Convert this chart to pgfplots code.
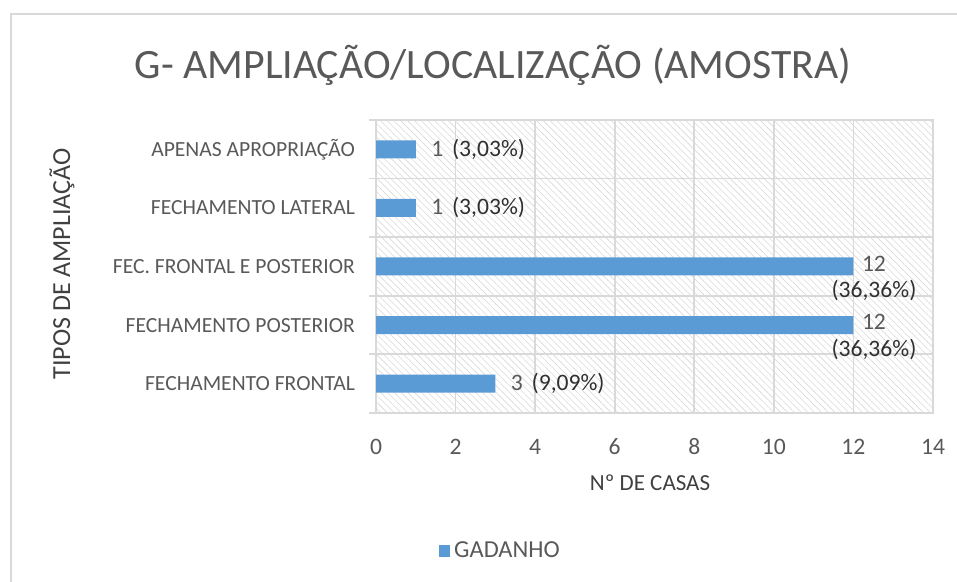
\documentclass[border=0pt]{standalone}
\usepackage{fontspec}
\setmainfont{Carlito}
\usepackage{pgfplots}
\pgfplotsset{compat=1.18}
\usetikzlibrary{patterns.meta}
\definecolor{barc}{HTML}{5B9BD5}
\definecolor{txt}{HTML}{595959}
\definecolor{dark}{HTML}{404040}
\definecolor{lab}{HTML}{303030}
\definecolor{grd}{HTML}{D9D9D9}
\newcommand\lblfont{\fontsize{10.8}{13}\selectfont}
\newcommand\numfont{\fontsize{11.8}{14}\selectfont}
\newcommand\datfont{\fontsize{11.8}{13.2}\selectfont}
\begin{document}
\begin{tikzpicture}
\useasboundingbox (0,0) rectangle (478.5pt,291pt);
\draw[grd, line width=1pt] (5.5pt,-5pt) -- (5.5pt,284pt) -- (485pt,284pt);
\node[text=txt, font=\fontsize{20.9}{25}\selectfont] at (246.5pt,258.5pt) {G- AMPLIAÇÃO/LOCALIZAÇÃO (AMOSTRA)};
\node[text=dark, font=\fontsize{13}{15}\selectfont, rotate=90] at (31pt,159pt) {TIPOS DE AMPLIAÇÃO};
\node[text=dark, font=\fontsize{11.5}{14}\selectfont] at (325pt,49.5pt) {Nº DE CASAS};
\begin{axis}[
  at={(188pt,84.5pt)}, anchor=south west,
  scale only axis, width=278.5pt, height=146.5pt,
  xmin=0, xmax=14, ymin=-0.5, ymax=4.5,
  xbar, bar width=9pt, bar shift=0pt,
  xtick={0,2,...,14},
  ytick={0,1,2,3,4},
  yticklabels={FECHAMENTO FRONTAL, FECHAMENTO POSTERIOR, FEC. FRONTAL E POSTERIOR, FECHAMENTO LATERAL, APENAS APROPRIAÇÃO},
  minor ytick={-0.5,0.5,1.5,2.5,3.5,4.5},
  xmajorgrids, yminorgrids,
  grid style={grd, line width=0.9pt},
  minor grid style={grd, line width=0.9pt},
  axis line style={grd, line width=1pt},
  tick pos=left, tick align=outside,
  major tick length=0pt, minor tick length=3.5pt,
  minor tick style={grd, line width=0.9pt},
  /pgf/number format/assume math mode=true,
  every tick label/.append style={text=txt},
  xticklabel style={anchor=center, yshift=-17pt, font=\numfont},
  yticklabel style={anchor=east, xshift=-7pt, font=\lblfont},
  axis background/.style={pattern={Lines[angle=-45,distance=2.4pt,line width=0.3pt]}, pattern color=gray!30},
  legend style={draw=none, fill=none, at={(0.225,-0.471)}, anchor=center, font=\fontsize{12.2}{14}\selectfont, text=txt},
  legend image code/.code={\fill[barc] (-1.5pt,-2.8pt) rectangle (4.1pt,2.8pt);},
  point meta=explicit symbolic,
]
\addplot[fill=barc, draw=none, nodes near coords,
  every node near coord/.append style={anchor=west, xshift=4.2pt, text=lab, font=\datfont}]
  coordinates {(3,0) [{\textcolor{txt}{3}\hspace{0.15em} (9,09\%)}] (1,3) [{\textcolor{txt}{1}\hspace{0.15em} (3,03\%)}] (1,4) [{\textcolor{txt}{1}\hspace{0.15em} (3,03\%)}]};
\addlegendentry{GADANHO}
\addplot[fill=barc, draw=none, forget plot, nodes near coords,
  every node near coord/.append style={anchor=west, xshift=-14.5pt, yshift=-6pt, align=center, text=lab, font=\datfont}]
  coordinates {(12,1) [{\textcolor{txt}{12}\\(36,36\%)}] (12,2) [{\textcolor{txt}{12}\\(36,36\%)}]};
\end{axis}
\end{tikzpicture}
\end{document}
